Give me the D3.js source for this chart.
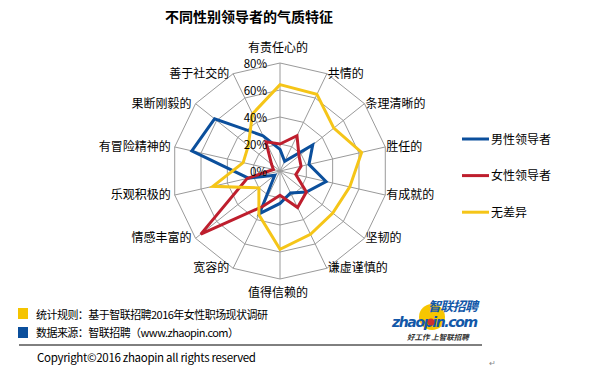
<!DOCTYPE html>
<html lang="zh">
<head>
<meta charset="UTF-8">
<title>不同性别领导者的气质特征</title>
<script src="https://d3js.org/d3.v7.min.js"></script>
<style>
  body { margin: 0; background: #fff; }
  svg text { font-family: "Noto Sans CJK SC", "Noto Sans", sans-serif; fill: #000; }
</style>
</head>
<body>
<div id="chart"></div>
<script>
// traits, clockwise from top
const categories = ["有责任心的", "共情的", "条理清晰的", "胜任的", "有成就的", "坚韧的", "谦虚谨慎的",
  "值得信赖的", "宽容的", "情感丰富的", "乐观积极的", "有冒险精神的", "果断刚毅的", "善于社交的"];
const seriesNames = ["男性领导者", "女性领导者", "无差异"];
const maleValues   = [16, 8, 31, 22, 35, 25, 18, 24, 35, 5, 24, 67, 62, 29];
const femaleValues = [20, 29, 18, 16, 12, 25, 30, 18, 29, 75, 25, 5, 8, 24];
const noDiffValues = [64, 63, 51, 62, 53, 50, 52, 58, 36, 20, 51, 28, 30, 47];
const tickValues = [0, 20, 40, 60, 80];
const colors = ["#0b4f9c", "#be1e2d", "#f5c518"];

const W = 603, H = 370;
const cx = 280, cy = 171, R = 108;

const svg = d3.select("#chart").append("svg")
  .attr("width", W).attr("height", H);

svg.append("text")
  .attr("x", 249).attr("y", 22)
  .attr("text-anchor", "middle")
  .attr("font-size", 14).attr("font-weight", "bold")
  .text("不同性别领导者的气质特征");

const r = d3.scaleLinear().domain([0, 80]).range([0, R]);
const angle = d3.scalePoint().domain(categories).range([0, 2 * Math.PI * (13 / 14)]);

const g = svg.append("g").attr("transform", `translate(${cx},${cy})`);

// grid rings
const ring = d3.lineRadial()
  .angle(d => angle(d.c))
  .radius(d => r(d.v))
  .curve(d3.curveLinearClosed);

tickValues.filter(t => t > 0).forEach(t => {
  g.append("path")
    .attr("d", ring(categories.map(c => ({ c, v: t }))))
    .attr("fill", "none").attr("stroke", "#9a9a9a").attr("stroke-width", 1);
});

// spokes
g.selectAll(".spoke").data(categories).enter().append("line")
  .attr("class", "spoke")
  .attr("x1", 0).attr("y1", 0)
  .attr("x2", d => r(80) * Math.sin(angle(d)))
  .attr("y2", d => -r(80) * Math.cos(angle(d)))
  .attr("stroke", "#9a9a9a").attr("stroke-width", 1);

// series
const series = [maleValues, femaleValues, noDiffValues];
const line = d3.lineRadial()
  .angle((d, i) => angle(categories[i]))
  .radius(d => r(d))
  .curve(d3.curveLinearClosed);

series.forEach((vals, k) => {
  g.append("path")
    .attr("d", line(vals))
    .attr("fill", "none")
    .attr("stroke", colors[k])
    .attr("stroke-width", 3)
    .attr("stroke-linejoin", "miter");
});

// percent tick labels
g.selectAll(".tick").data(tickValues).enter().append("text")
  .attr("x", -13)
  .attr("y", d => -r(d) + 5)
  .attr("text-anchor", "end")
  .attr("font-size", 11.5)
  .text(d => d + "%");

// category labels
g.selectAll(".cat").data(categories).enter().append("text")
  .attr("font-size", 12)
  .each(function(d) {
    const a = angle(d);
    const x = r(80) * Math.sin(a), y = -r(80) * Math.cos(a);
    const t = d3.select(this);
    if (Math.abs(Math.sin(a)) < 0.01) {
      t.attr("text-anchor", "middle").attr("x", x - 2)
        .attr("y", y < 0 ? y - 11 : y + 18);
    } else if (x > 0) {
      t.attr("text-anchor", "start").attr("x", x + 1).attr("y", y + 4);
    } else {
      t.attr("text-anchor", "end").attr("x", x - 4).attr("y", y + 4);
    }
  })
  .text(d => d);

// legend
const legend = svg.append("g").attr("transform", "translate(462,139)");
seriesNames.forEach((name, i) => {
  const row = legend.append("g").attr("transform", `translate(0,${i * 36.6})`);
  row.append("line").attr("x1", 0).attr("x2", 27).attr("y1", 0).attr("y2", 0)
    .attr("stroke", colors[i]).attr("stroke-width", 3);
  row.append("text").attr("x", 29).attr("y", 4.5).attr("font-size", 12).text(name);
});

// notes
svg.append("rect").attr("x", 18).attr("y", 308).attr("width", 10).attr("height", 11).attr("fill", "#f5c400");
svg.append("text").attr("x", 36).attr("y", 318.5).attr("font-size", 11).attr("textLength", 232)
  .text("统计规则：基于智联招聘2016年女性职场现状调研");
svg.append("rect").attr("x", 18).attr("y", 327).attr("width", 10).attr("height", 11).attr("fill", "#0b4f9c");
svg.append("text").attr("x", 36).attr("y", 337).attr("font-size", 11).attr("textLength", 203)
  .text("数据来源：智联招聘（www.zhaopin.com）");
svg.append("line").attr("x1", 19).attr("x2", 482).attr("y1", 345).attr("y2", 345)
  .attr("stroke", "#000").attr("stroke-width", 1);
svg.append("text").attr("x", 37).attr("y", 361.5).attr("font-size", 11.5).attr("textLength", 219)
  .text("Copyright©2016 zhaopin all rights reserved");
svg.append("text").attr("x", 489).attr("y", 366).attr("font-size", 8).style("fill", "#888").text("↵");

// logo
const logo = svg.append("g");
logo.append("circle").attr("cx", 432).attr("cy", 317).attr("r", 13).attr("fill", "#f7c600");
logo.append("text").attr("x", 428).attr("y", 311).attr("font-size", 13).attr("font-weight", "bold")
  .attr("font-style", "italic").style("fill", "#1257a8").attr("textLength", 50).text("智联招聘");
logo.append("text").attr("x", 392).attr("y", 326.5).attr("font-size", 14).attr("font-weight", "bold")
  .attr("font-style", "italic").style("fill", "#1257a8").attr("textLength", 86)
  .style("font-family", "'DejaVu Sans', sans-serif").text("zhaopin.com");
logo.append("circle").attr("cx", 431).attr("cy", 322).attr("r", 3.5).attr("fill", "#d0312d");
logo.append("text").attr("x", 407).attr("y", 340).attr("font-size", 7.5).attr("font-style", "italic")
  .attr("font-weight", "bold").style("fill", "#333").text("好工作  上智联招聘");
</script>
</body>
</html>
